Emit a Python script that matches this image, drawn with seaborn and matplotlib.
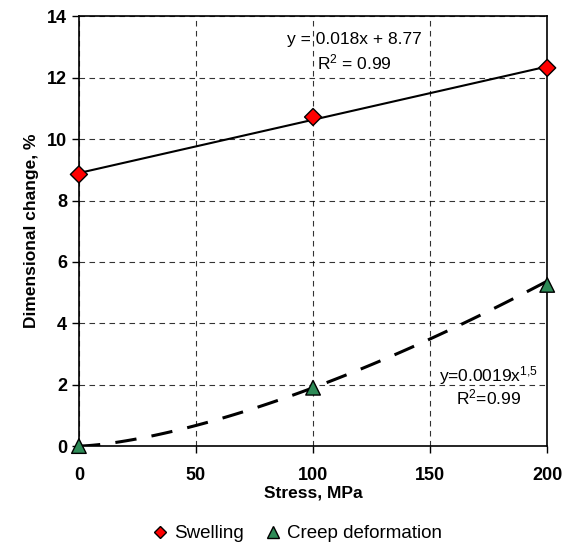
import numpy as np
import pandas as pd
import seaborn as sns
import matplotlib.pyplot as plt

stress = [0, 100, 200]
swelling = [8.85, 10.72, 12.32]
creep = [0.0, 1.9, 5.25]
x_ticks = [0, 50, 100, 150, 200]
y_ticks = [0, 2, 4, 6, 8, 10, 12, 14]

sns.set_style('ticks')
plt.rcParams['font.family'] = ['Liberation Sans', 'DejaVu Sans']
plt.rcParams['mathtext.fontset'] = 'custom'
plt.rcParams['mathtext.rm'] = 'Liberation Sans'
plt.rcParams['mathtext.it'] = 'Liberation Sans'
plt.rcParams['mathtext.default'] = 'regular'
plt.rcParams['text.color'] = 'black'
plt.rcParams['axes.labelcolor'] = 'black'

fig = plt.figure(figsize=(5.76, 5.44), dpi=100)
ax = fig.add_axes([0.137, 0.18, 0.813, 0.79])

# trend lines
lin = np.polyfit(stress, swelling, 1)
xs = np.linspace(0, 200, 100)
sns.lineplot(x=xs, y=np.polyval(lin, xs), color='black', linewidth=1.5, ax=ax)
ax.plot(xs, 0.0019 * xs ** 1.5, color='black', linewidth=2.2, dashes=(7, 5))

df = pd.DataFrame({'Stress': stress * 2, 'value': swelling + creep,
                   'series': ['Swelling'] * 3 + ['Creep deformation'] * 3})
sns.scatterplot(data=df, x='Stress', y='value', hue='series', style='series',
                palette={'Swelling': '#ff0000', 'Creep deformation': '#2e8b57'},
                markers={'Swelling': 'D', 'Creep deformation': '^'},
                size='series', sizes={'Swelling': 75, 'Creep deformation': 110},
                edgecolor='black', linewidth=1, ax=ax, clip_on=False, zorder=5)

ax.set_xlim(0, 200)
ax.set_ylim(0, 14)
ax.set_xticks(x_ticks)
ax.set_yticks(y_ticks)
ax.grid(True, color='black', linestyle=(0, (5, 4)), linewidth=0.8, alpha=0.8)
for s in ax.spines.values():
    s.set_color('black')
    s.set_linewidth(1.2)
ax.tick_params(axis='both', labelsize=13, width=1, length=5, direction='out', colors='black')
for lab in ax.get_xticklabels() + ax.get_yticklabels():
    lab.set_fontweight('bold')
ax.tick_params(axis='x', pad=10)
ax.set_xlabel('Stress, MPa', fontsize=12.5, fontweight='bold', labelpad=1)
ax.set_ylabel('Dimensional change, %', fontsize=12.5, fontweight='bold', labelpad=6)

ax.text(117.5, 13.25, 'y = 0.018x + 8.77', ha='center', va='center', fontsize=12.5)
ax.text(117.5, 12.5, 'R$^2$ = 0.99', ha='center', va='center', fontsize=12.5)
ax.text(175, 2.3, 'y=0.0019x$^{1{,}5}$', ha='center', va='center', fontsize=12.5)
ax.text(175, 1.6, 'R$^2$=0.99', ha='center', va='center', fontsize=12.5)

handles, labels = ax.get_legend_handles_labels()
for h, ms in zip(handles, [6.5, 8]):
    h.set_markersize(ms)
ax.legend(handles, labels, loc='upper center', bbox_to_anchor=(0.46, -0.145), ncol=2,
          frameon=False, fontsize=13.5, handletextpad=0.0, columnspacing=0.8,
          handlelength=1.5)

fig.savefig('out.png', dpi=100)
